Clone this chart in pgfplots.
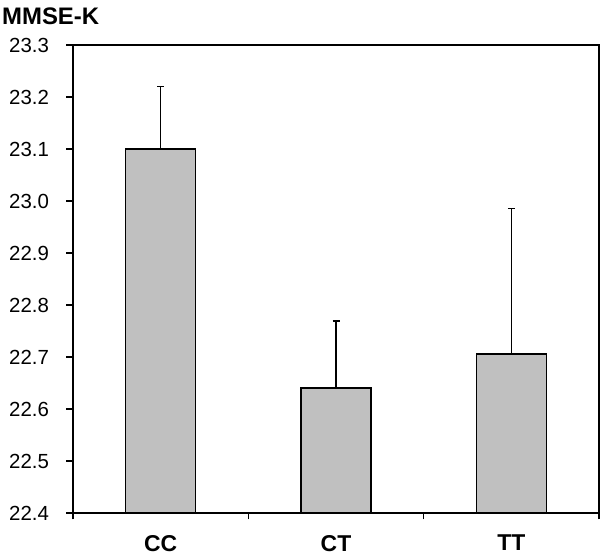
\documentclass[border=0pt]{standalone}
\usepackage{pgfplots}
\pgfplotsset{compat=1.18}
\usepackage{fontspec}
\setmainfont{Liberation Sans}
\definecolor{barfill}{RGB}{192,192,192}
\begin{document}
\begin{tikzpicture}
\begin{axis}[
  scale only axis,
  width=526bp, height=468bp,
  xmin=0.5, xmax=3.5,
  ymin=22.4, ymax=23.3,
  ytick={22.4,22.5,...,23.3},
  xtick={0.5,1.5,2.5,3.5},
  x tick label as interval,
  xticklabels={CC,CT,TT},
  x tick label style={font=\fontsize{23}{26}\selectfont\bfseries, yshift=-12bp},
  y tick label style={font=\fontsize{20.5}{24}\selectfont, xshift=-14bp},
  /pgf/number format/assume math mode=true,
  yticklabel={\pgfmathprintnumber[fixed,fixed zerofill,precision=1]{\tick}},
  tick align=outside,
  xtick pos=bottom, ytick pos=left,
  major tick length=6.5bp,
  tick style={line width=1.5pt, black},
  axis line style={line width=1.5pt},
  axis on top,
  ybar, bar width=0.4,
  clip=true,
]
\addplot[fill=barfill, draw=black, line width=1.5pt,
  error bars/.cd, y dir=plus, y explicit,
  error bar style={line width=1.5pt},
  error mark options={rotate=90, mark size=3.5bp, line width=1.5pt}]
  table[x=x, y=y, y error=e] {
  x y e
  1 23.100 0.120
  2 22.640 0.129
  3 22.706 0.280
};
\end{axis}
\node[anchor=base west, font=\fontsize{24}{28}\selectfont\bfseries, inner sep=0pt] at ([xshift=-71bp, yshift=20bp]current axis.north west) {MMSE-K};
\pgfresetboundingbox
\path[use as bounding box] ([xshift=-73bp, yshift=-45bp]current axis.south west) rectangle ([xshift=3bp, yshift=45bp]current axis.north east);
\end{tikzpicture}
\end{document}
